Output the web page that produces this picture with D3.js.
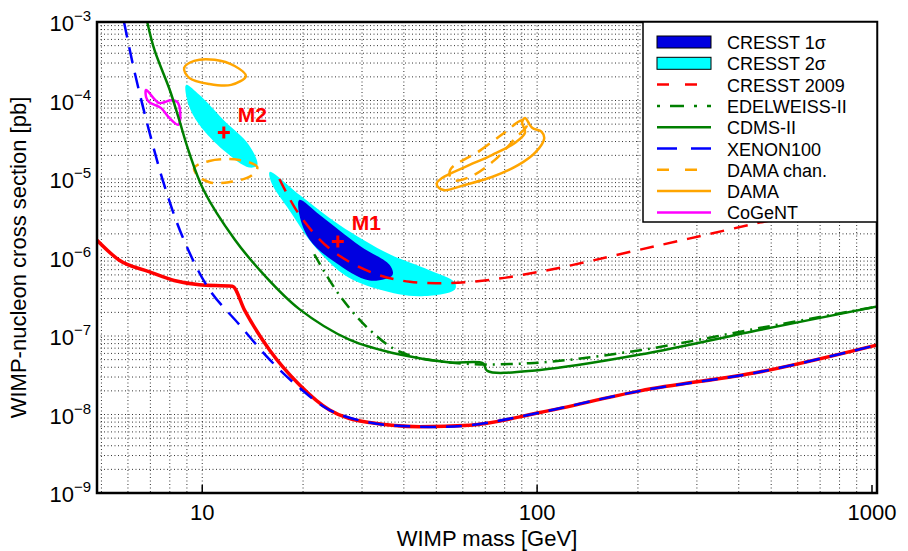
<!DOCTYPE html>
<html><head><meta charset="utf-8">
<script src="https://cdn.jsdelivr.net/npm/d3@7"></script>
<style>
body{margin:0;background:#fff;font-family:"Liberation Sans",Arial,sans-serif}
.grid line{stroke:#000;stroke-width:1;stroke-dasharray:1,2.5;opacity:.8}
</style></head><body>
<svg id="c" width="908" height="551"></svg>
<script>
// curves as [mass GeV, cross section pb]
var cresstLimit = [[4.85,1.66e-6],[5.64,9.3e-7],[6.93,6.6e-7],[8.24,5.1e-7],[9.8,4.5e-7],[12.3,4.3e-7],[13.4,2.1e-7],[15.9,6.6e-8],[19.5,2.4e-8],[24,1.14e-8],[31.6,7.9e-9],[44.6,7e-9],[63,7.3e-9],[102,1.06e-8],[203,2.0e-8],[465,3.5e-8],[1050,7.8e-8]];
var xenon100 = [[5.84,1e-3],[6.26,2.45e-4],[6.93,4.2e-5],[7.7,8.4e-6],[8.8,1.7e-6],[10.5,3.9e-7],[12.9,1.4e-7],[15.9,5e-8],[19.5,2.2e-8],[24,1.14e-8],[31.6,7.9e-9],[44.6,7e-9],[63,7.3e-9],[102,1.06e-8],[203,2.0e-8],[465,3.5e-8],[1050,7.8e-8]];
var cdms = [[6.85,1e-3],[7.2,4.4e-4],[8.0,1.36e-4],[8.5,6e-5],[9.1,2.3e-5],[10.1,7.2e-6],[12.5,1.7e-6],[15.3,6e-7],[19.5,2.2e-7],[27.5,9e-8],[38.9,5.8e-8],[55,4.6e-8],[68.9,4.5e-8],[71,3.6e-8],[102,3.7e-8],[203,5.8e-8],[465,1.2e-7],[1050,2.4e-7]];
var edelweiss = [[21.6,1.1e-6],[25.7,3.3e-7],[31.6,1.2e-7],[38.9,6.3e-8],[55,4.6e-8],[95,4.5e-8],[203,6.6e-8],[465,1.27e-7],[1050,2.4e-7]];
var cresst2009 = [[17,1e-5],[19.5,3.5e-6],[24,1.3e-6],[31.6,6.6e-7],[41.7,4.9e-7],[63,4.9e-7],[102,6.6e-7],[203,1.26e-6],[465,2.8e-6],[520,3.1e-6]];
var m1Sigma2 = [[15.9,1.23e-5],[19.5,6.3e-6],[25.7,2.6e-6],[36.3,1.1e-6],[47.7,6.9e-7],[56.8,4.8e-7],[56.8,3.9e-7],[44.6,3.2e-7],[33.8,3.9e-7],[26.6,6e-7],[21.6,1.4e-6],[18.2,4e-6],[16.1,8.9e-6]];
var m1Sigma1 = [[19.5,5.4e-6],[22.4,3.5e-6],[29.6,1.4e-6],[36.3,8e-7],[37,6e-7],[31.6,5.1e-7],[24.8,8.8e-7],[20.9,1.7e-6],[19.5,3.5e-6]];
var m2Sigma2 = [[8.95,1.58e-4],[9.8,1.18e-4],[11.6,5.6e-5],[13.8,2.7e-5],[14.6,1.5e-5],[13.8,1.4e-5],[11.6,2.3e-5],[9.8,4.9e-5],[9.1,8.8e-5]];
var damaLow = [[8.83,2.6e-4],[9.46,3.2e-4],[10.9,3.3e-4],[12.5,2.75e-4],[13.5,2.05e-4],[12.2,1.58e-4],[10.5,1.62e-4],[9.14,1.94e-4]];
var damaChanLow = [[9.46,1.38e-5],[10.5,1.7e-5],[12.9,1.75e-5],[14.6,1.42e-5],[14.0,1.1e-5],[12.0,9.1e-6],[10.5,9.1e-6],[9.66,1.12e-5]];
var damaHigh = [[50.2,8.9e-6],[52,1.03e-5],[60.8,1.42e-5],[73.3,2.02e-5],[86,2.9e-5],[92,3.9e-5],[90.2,5.3e-5],[92,6e-5],[96.6,4.5e-5],[103,4e-5],[105,3.3e-5],[99,2.2e-5],[87.7,1.5e-5],[73.3,1.06e-5],[60.8,8.4e-6],[53,7.2e-6],[50.6,7.9e-6]];
var damaChanHigh = [[55,1.3e-5],[67.5,2.3e-5],[80,3.9e-5],[90.2,5.6e-5],[93.3,4.9e-5],[86,3.3e-5],[74.8,1.75e-5],[63,1.06e-5],[55.7,9.7e-6]];
var cogent = [[6.8,1.36e-4],[7.43,9.3e-5],[8.07,1.01e-4],[8.42,9.6e-5],[8.6,6.5e-5],[8.47,4.9e-5],[7.97,6e-5],[7.54,8e-5],[6.93,9.6e-5],[6.8,1.1e-4]];
var bestFits = [{name:"M1",m:25.4,s:1.6e-6},{name:"M2",m:11.6,s:3.9e-5}];
var xTicks = [10,100,1000];
var yExps = [-3,-4,-5,-6,-7,-8,-9];
var legendNames = ["CRESST 1σ","CRESST 2σ","CRESST 2009","EDELWEISS-II","CDMS-II","XENON100","DAMA chan.","DAMA","CoGeNT"];

var svg = d3.select("#c");
var L=97,R=877,T=22,B=493;
var x = d3.scaleLog().domain([4.85,1035]).range([L,R]);
var y = d3.scaleLog().domain([1e-9,1e-3]).range([B,T]);
var g = svg.append("g");

// dotted grid at every minor decade value
var grid = g.append("g").attr("class","grid");
var xg=[]; for (var d=1; d<=100; d*=10) for (var k=1;k<10;k++){var v=k*d; if(v>4.85&&v<1035) xg.push(v);}
var yg=[]; for (var e=-9;e<-3;e++) for (var k=1;k<10;k++) yg.push(k*Math.pow(10,e));
grid.selectAll(".gx").data(xg).enter().append("line").attr("x1",x).attr("x2",x).attr("y1",T).attr("y2",B);
grid.selectAll(".gy").data(yg).enter().append("line").attr("y1",y).attr("y2",y).attr("x1",L).attr("x2",R);

svg.append("clipPath").attr("id","pc").append("rect").attr("x",L).attr("y",T).attr("width",R-L).attr("height",B-T);
var plot = g.append("g").attr("clip-path","url(#pc)");

var smooth = d3.line().x(function(d){return x(d[0]);}).y(function(d){return y(d[1]);}).curve(d3.curveCatmullRom);
var ring = d3.line().x(function(d){return x(d[0]);}).y(function(d){return y(d[1]);}).curve(d3.curveCatmullRomClosed);
var mono = d3.line().x(function(d){return x(d[0]);}).y(function(d){return y(d[1]);}).curve(d3.curveMonotoneX);

function area(data, fill){ plot.append("path").attr("d",ring(data)).attr("fill",fill).attr("stroke","none"); }
function curve(data, col, w, dash, gen){ plot.append("path").attr("d",(gen||smooth)(data)).attr("fill","none").attr("stroke",col).attr("stroke-width",w).attr("stroke-dasharray",dash||null); }

area(m1Sigma2,"#00ffff");
area(m2Sigma2,"#00ffff");
area(m1Sigma1,"#0000e0");
curve(damaLow,"#ffa500",2.5,null,ring);
curve(damaChanLow,"#ffa500",2.5,"12,8",ring);
curve(damaHigh,"#ffa500",2.5,null,ring);
curve(damaChanHigh,"#ffa500",2.5,"12,8",ring);
curve(cogent,"#ff00ff",2.5,null,ring);
curve(cdms,"#007f00",2.5);
curve(edelweiss,"#007f00",2.5,"12,6,2,6");
curve(cresstLimit,"#ff0000",3.5,null,mono);
curve(xenon100,"#0000ff",2.5,"16,10");
curve(cresst2009,"#ff0000",2.5,"14,10");

// best fit markers
bestFits.forEach(function(b){
  var cx=x(b.m), cy=y(b.s);
  plot.append("path").attr("d","M"+(cx-6)+","+cy+"H"+(cx+6)+"M"+cx+","+(cy-6)+"V"+(cy+6)).attr("stroke","#ff0000").attr("stroke-width",3);
  plot.append("text").attr("x",cx+14).attr("y",cy-11).attr("fill","#ff0000").attr("font-size",21).attr("font-weight","bold").text(b.name);
});

// frame
g.append("rect").attr("x",L).attr("y",T).attr("width",R-L).attr("height",B-T).attr("fill","none").attr("stroke","#000").attr("stroke-width",2.5);

// tick labels
g.selectAll(".xt").data(xTicks).enter().append("text").attr("x",x).attr("y",B+27).attr("text-anchor","middle").attr("font-size",22).text(function(d){return d;});
var yt = g.selectAll(".yt").data(yExps).enter().append("text").attr("x",L-6).attr("y",function(d){return y(Math.pow(10,d))+9;}).attr("text-anchor","end").attr("font-size",22);
yt.append("tspan").text("10");
yt.append("tspan").attr("dy",-10).attr("font-size",15).text(function(d){return "\u2212"+(-d);});
g.selectAll(".xtk").data(xTicks).enter().append("line").attr("x1",x).attr("x2",x).attr("y1",B).attr("y2",B-8).attr("stroke","#000").attr("stroke-width",1.5);

svg.append("text").attr("x",(L+R)/2).attr("y",546).attr("text-anchor","middle").attr("font-size",22).text("WIMP mass [GeV]");
svg.append("text").attr("transform","translate(26,"+((T+B)/2)+") rotate(-90)").attr("text-anchor","middle").attr("font-size",22).text("WIMP-nucleon cross section [pb]");

// legend
var lg = g.append("g").attr("transform","translate(643,22)");
lg.append("rect").attr("width",234).attr("height",200).attr("fill","#fff").attr("stroke","#000").attr("stroke-width",1.5);
var styles=[{box:"#0000e0"},{box:"#00ffff"},{c:"#ff0000",dash:"12,16"},{c:"#007f00",dash:"3,10,14,10"},{c:"#007f00"},{c:"#0000ff",dash:"20,14"},{c:"#ffa500",dash:"12,16"},{c:"#ffa500"},{c:"#ff00ff"}];
legendNames.forEach(function(n,i){
  var yy=20+i*21.3, s=styles[i];
  if(s.box) lg.append("rect").attr("x",14).attr("y",yy-6).attr("width",54).attr("height",12).attr("fill",s.box).attr("stroke","#000").attr("stroke-width",1);
  else lg.append("line").attr("x1",14).attr("x2",68).attr("y1",yy).attr("y2",yy).attr("stroke",s.c).attr("stroke-width",2.5).attr("stroke-dasharray",s.dash||null);
  lg.append("text").attr("x",84).attr("y",yy+7).attr("font-size",18).text(n);
});
</script></body></html>
